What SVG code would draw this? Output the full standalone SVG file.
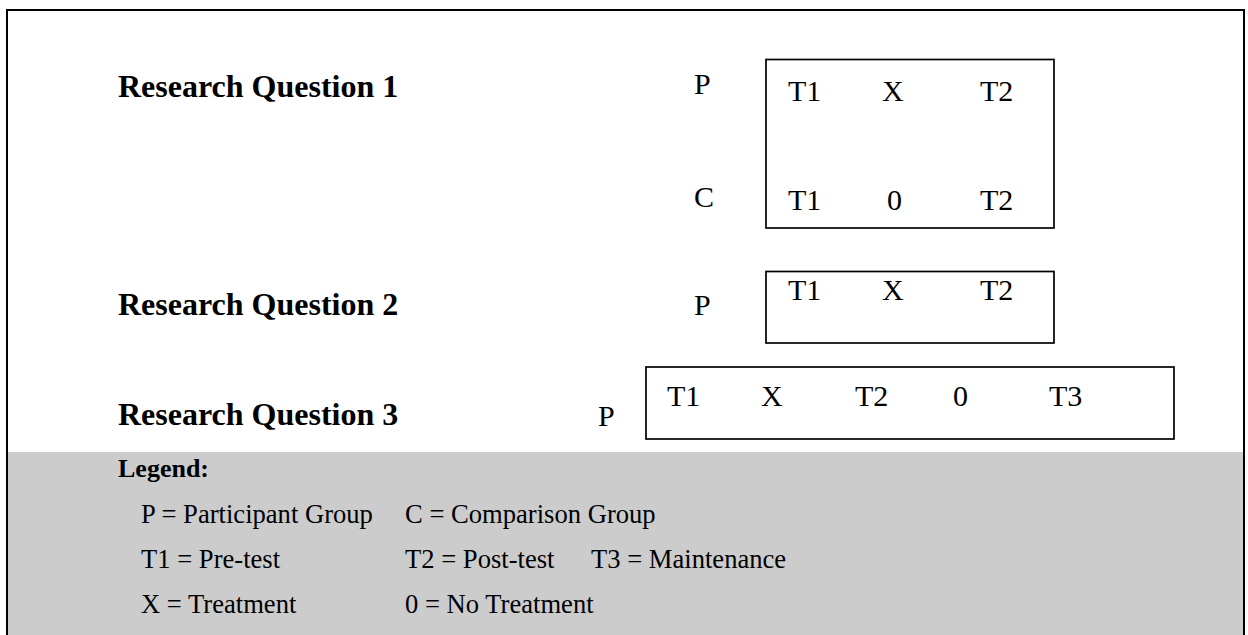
<svg xmlns="http://www.w3.org/2000/svg" width="1248" height="635" viewBox="0 0 1248 635">
  <style>
    .frame { fill: none; stroke: #000; stroke-width: 2; }
    .box { fill: none; stroke: #000; stroke-width: 1.7; }
    .rq { font-family: "Liberation Serif", "Times New Roman", serif; font-weight: bold; font-size: 32px; fill: #000; }
    .lbl { font-family: "Liberation Serif", "Times New Roman", serif; font-size: 30px; fill: #000; }
    .lgh { font-family: "Liberation Serif", "Times New Roman", serif; font-weight: bold; font-size: 26px; fill: #000; }
    .lg { font-family: "Liberation Serif", "Times New Roman", serif; font-size: 26.6px; fill: #000; }
  </style>

  <rect x="0" y="0" width="1248" height="635" fill="#fff"/>
  <!-- legend band -->
  <rect x="8" y="452" width="1235" height="183" fill="#cccccc"/>
  <!-- outer frame -->
  <rect class="frame" x="7" y="10" width="1237" height="640"/>

  <g id="rq1">
    <text class="rq" x="118" y="96.5">Research Question 1</text>
    <text class="lbl" x="694" y="94">P</text>
    <text class="lbl" x="694" y="207">C</text>
    <rect class="box" x="766" y="59.5" width="288" height="168.5"/>
    <text class="lbl" x="788" y="101">T1</text>
    <text class="lbl" x="882" y="101">X</text>
    <text class="lbl" x="980" y="101">T2</text>
    <text class="lbl" x="788" y="210">T1</text>
    <text class="lbl" x="887" y="210">0</text>
    <text class="lbl" x="980" y="210">T2</text>
  </g>

  <g id="rq2">
    <text class="rq" x="118" y="315">Research Question 2</text>
    <text class="lbl" x="694" y="315">P</text>
    <rect class="box" x="766" y="271.5" width="288" height="71.5"/>
    <text class="lbl" x="788" y="300">T1</text>
    <text class="lbl" x="882" y="300">X</text>
    <text class="lbl" x="980" y="300">T2</text>
  </g>

  <g id="rq3">
    <text class="rq" x="118" y="425">Research Question 3</text>
    <text class="lbl" x="598" y="426">P</text>
    <rect class="box" x="646" y="367" width="528" height="72"/>
    <text class="lbl" x="667" y="406">T1</text>
    <text class="lbl" x="761" y="406">X</text>
    <text class="lbl" x="855" y="406">T2</text>
    <text class="lbl" x="953" y="406">0</text>
    <text class="lbl" x="1049" y="406">T3</text>
  </g>

  <g id="legend">
    <text class="lgh" x="118" y="477">Legend:</text>
    <text class="lg" x="141" y="523">P = Participant Group</text>
    <text class="lg" x="405" y="523">C = Comparison Group</text>
    <text class="lg" x="141" y="568">T1 = Pre-test</text>
    <text class="lg" x="405" y="568">T2 = Post-test</text>
    <text class="lg" x="591" y="568">T3 = Maintenance</text>
    <text class="lg" x="141" y="613">X = Treatment</text>
    <text class="lg" x="405" y="613">0 = No Treatment</text>
  </g>
</svg>
